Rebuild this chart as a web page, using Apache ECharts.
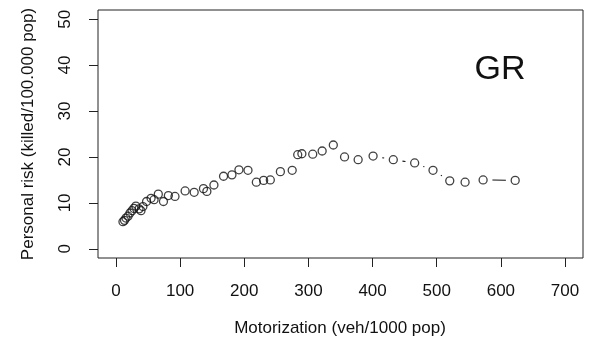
<!DOCTYPE html>
<html>
<head>
<meta charset="utf-8">
<script src="https://cdn.jsdelivr.net/npm/echarts@6/dist/echarts.min.js"></script>
<style>html,body{margin:0;padding:0;background:#fff}#c{width:594px;height:341px}</style>
</head>
<body>
<div id="c"></div>
<script>
var motorization = [10.9,13.3,15.6,18.8,21.9,25,28,31,36,39,42,47.7,54.7,59.4,66,74,81.7,92,107.8,121.9,136.4,141.7,152.7,167.7,180.8,191.7,205.8,218.8,230.2,240.6,256.3,274.7,283.3,289.8,306.7,321.4,338.8,356.3,377.5,400.8,432.3,465.6,494.2,520.3,544.2,572.3,622.3];
var personalRisk = [5.9,6.2,6.7,7.1,7.8,8.3,8.8,9.3,8.7,8.3,9.2,10.3,11.0,10.7,11.9,10.3,11.6,11.4,12.6,12.3,13.1,12.5,13.9,15.8,16.1,17.2,17.1,14.5,14.9,15.0,16.8,17.1,20.5,20.7,20.6,21.3,22.6,20.0,19.4,20.2,19.4,18.7,17.1,14.8,14.5,15.0,14.9];
var xTicks = [0,100,200,300,400,500,600,700];
var yTicks = [0,10,20,30,40,50];
var countryLabel = 'GR';
var xTitle = 'Motorization (veh/1000 pop)';
var yTitle = 'Personal risk (killed/100.000 pop)';

var pts = motorization.map(function(x,i){return [x, personalRisk[i]];});
var segs = [];
for (var i=0;i<pts.length-1;i++) segs.push([pts[i][0],pts[i][1],pts[i+1][0],pts[i+1][1]]);

var FONT = 'Liberation Sans, Arial, sans-serif';
var chart = echarts.init(document.getElementById('c'), null, {renderer:'canvas'});
chart.setOption({
  animation:false,
  backgroundColor:'#fff',
  grid:{left:98,right:11,top:10,bottom:83,show:true,borderColor:'#222',borderWidth:1,backgroundColor:'transparent'},
  xAxis:{type:'value',min:-28,max:728,
    axisLine:{show:false,onZero:false},splitLine:{show:false},
    axisTick:{show:true,inside:false,length:9,customValues:xTicks,lineStyle:{color:'#222',width:1}},
    axisLabel:{customValues:xTicks,margin:25,fontSize:17,color:'#111',fontFamily:FONT}
  },
  yAxis:{type:'value',min:-2,max:52,
    axisLine:{show:false,onZero:false},splitLine:{show:false},
    axisTick:{show:true,inside:false,length:9,customValues:yTicks,lineStyle:{color:'#222',width:1}},
    axisLabel:{customValues:yTicks,margin:24,rotate:90,fontSize:17,color:'#111',fontFamily:FONT}
  },
  graphic:[
    {type:'text',position:[340,328],style:{text:xTitle,fontSize:17,fill:'#111',fontFamily:FONT,textAlign:'center',textVerticalAlign:'middle'}},
    {type:'text',rotation:Math.PI/2,position:[28,134],style:{text:yTitle,fontSize:17,fill:'#111',fontFamily:FONT,textAlign:'center',textVerticalAlign:'middle'}},
    {type:'text',position:[500,70],style:{text:countryLabel,fontSize:34,fill:'#111',fontFamily:FONT,textAlign:'center',textVerticalAlign:'middle'}}
  ],
  series:[
    {type:'custom',data:segs,encode:{x:[0,2],y:[1,3]},clip:false,
     renderItem:function(params,api){
       var p0=api.coord([api.value(0),api.value(1)]);
       var p1=api.coord([api.value(2),api.value(3)]);
       var dx=p1[0]-p0[0],dy=p1[1]-p0[1],len=Math.sqrt(dx*dx+dy*dy),g=9.3;
       if(len<=2*g) return null;
       var ux=dx/len,uy=dy/len;
       return {type:'line',shape:{x1:p0[0]+ux*g,y1:p0[1]+uy*g,x2:p1[0]-ux*g,y2:p1[1]-uy*g},style:{stroke:'#111',lineWidth:1.1}};
     }},
    {type:'scatter',data:pts,symbol:'circle',symbolSize:8,
     itemStyle:{color:'rgba(0,0,0,0)',borderColor:'#111',borderWidth:1.3}}
  ]
});
</script>
</body>
</html>
